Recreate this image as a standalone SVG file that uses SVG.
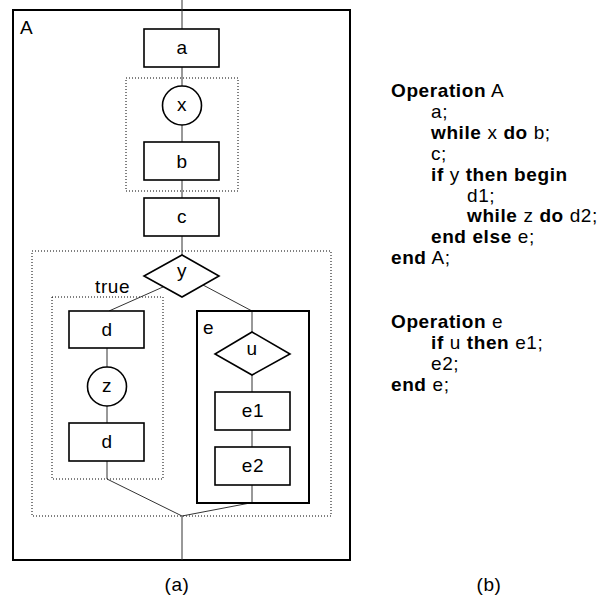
<svg xmlns="http://www.w3.org/2000/svg" width="611" height="598" viewBox="0 0 611 598">
<style>
text{font-family:"Liberation Sans",Arial,sans-serif;font-size:19px;letter-spacing:0.6px;fill:#000}
.c{text-anchor:middle}
.b{font-weight:bold}
.box{fill:#fff;stroke:#000;stroke-width:1.6}
.thick{fill:none;stroke:#000;stroke-width:2}
.dot{fill:none;stroke:#000;stroke-width:1;stroke-dasharray:1 2}
.ln{fill:none;stroke:#333;stroke-width:1}
</style>
<rect width="611" height="598" fill="#fff"/>
<g id="frameA">
<rect x="13" y="10" width="337" height="550" class="thick"/>
<text x="20" y="34">A</text>
</g>
<g id="loop1"><rect x="126" y="78" width="112" height="113" class="dot"/></g>
<g id="ifblock"><rect x="32" y="251" width="299" height="265" class="dot"/></g>
<g id="loop2"><rect x="52" y="297" width="111" height="182" class="dot"/><text x="95" y="293">true</text></g>
<g id="connectors">
<line x1="182" y1="0" x2="182" y2="29" class="ln"/>
<line x1="182" y1="67" x2="182" y2="86" class="ln"/>
<line x1="182" y1="125" x2="182" y2="142" class="ln"/>
<line x1="182" y1="180" x2="182" y2="198" class="ln"/>
<line x1="182" y1="236" x2="182" y2="255" class="ln"/>
<line x1="163" y1="287" x2="109" y2="311" class="ln"/>
<line x1="203" y1="285" x2="252" y2="311" class="ln"/>
<line x1="107" y1="348" x2="107" y2="367" class="ln"/>
<line x1="107" y1="406" x2="107" y2="423" class="ln"/>
<polyline points="107,461 107,479 182,516 250,503" class="ln"/>
<line x1="252" y1="311" x2="252" y2="332" class="ln"/>
<line x1="252" y1="375" x2="252" y2="392" class="ln"/>
<line x1="252" y1="430" x2="252" y2="447" class="ln"/>
<line x1="252" y1="485" x2="252" y2="503" class="ln"/>
<line x1="182" y1="516" x2="182" y2="560" class="ln"/>
</g>
<g id="a"><rect x="144" y="29" width="75" height="38" class="box"/><text x="182" y="54" class="c">a</text></g>
<g id="x"><circle cx="182" cy="105.5" r="19.5" class="box"/><text x="182" y="111" class="c">x</text></g>
<g id="b"><rect x="144" y="142" width="75" height="38" class="box"/><text x="182" y="168" class="c">b</text></g>
<g id="c"><rect x="144" y="198" width="75" height="38" class="box"/><text x="182" y="223" class="c">c</text></g>
<g id="y"><polygon points="182,255 219,276 182,297 144,276" class="box"/><text x="182" y="277" class="c">y</text></g>
<g id="d1"><rect x="69" y="311" width="75" height="37" class="box"/><text x="107" y="336" class="c">d</text></g>
<g id="z"><circle cx="107" cy="386.5" r="19.5" class="box"/><text x="107" y="392" class="c">z</text></g>
<g id="d2"><rect x="69" y="423" width="75" height="38" class="box"/><text x="107" y="448" class="c">d</text></g>
<g id="e"><rect x="197" y="311" width="112" height="192" class="thick"/><text x="203" y="334">e</text></g>
<g id="u"><polygon points="252,332 290,354 252,375 215,354" class="box"/><text x="252" y="355" class="c">u</text></g>
<g id="e1"><rect x="215" y="392" width="75" height="38" class="box"/><text x="253" y="417" class="c">e1</text></g>
<g id="e2"><rect x="215" y="447" width="75" height="38" class="box"/><text x="253" y="472" class="c">e2</text></g>
<g id="code">
<text x="391" y="97"><tspan class="b">Operation</tspan> A</text>
<text x="431" y="117.9">a;</text>
<text x="431" y="138.8"><tspan class="b">while</tspan> x <tspan class="b">do</tspan> b;</text>
<text x="431" y="159.7">c;</text>
<text x="431" y="180.6"><tspan class="b">if</tspan> y <tspan class="b">then begin</tspan></text>
<text x="467" y="201.5">d1;</text>
<text x="467" y="222.4"><tspan class="b">while</tspan> z <tspan class="b">do</tspan> d2;</text>
<text x="431" y="243.3"><tspan class="b">end else</tspan> e;</text>
<text x="391" y="264.2"><tspan class="b">end</tspan> A;</text>
<text x="391" y="328"><tspan class="b">Operation</tspan> e</text>
<text x="431" y="349"><tspan class="b">if</tspan> u <tspan class="b">then</tspan> e1;</text>
<text x="431" y="370">e2;</text>
<text x="391" y="391"><tspan class="b">end</tspan> e;</text>
</g>
<g id="captions">
<text x="177" y="591" class="c">(a)</text>
<text x="489" y="591" class="c">(b)</text>
</g>
</svg>
